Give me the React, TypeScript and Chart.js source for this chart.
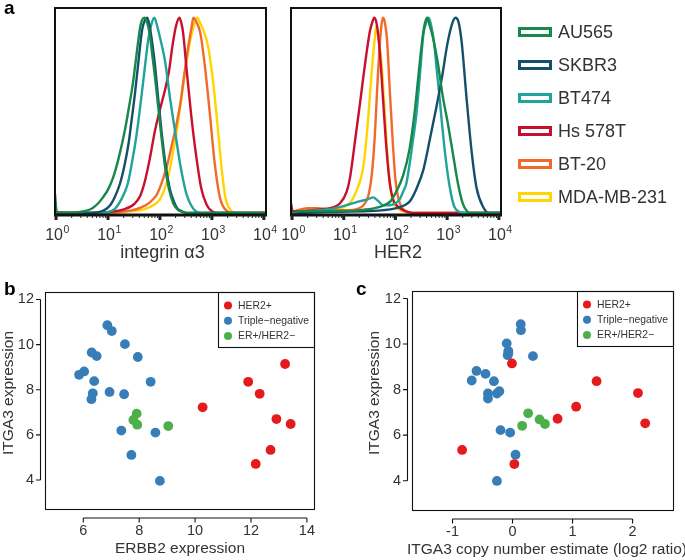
import React, { useEffect, useRef } from 'react';
import { Chart, registerables } from 'chart.js';

Chart.register(...registerables);

const FONT = '"Liberation Sans", Arial, Helvetica, sans-serif';
const TEXT = '#333333';

// ---------- panel a: flow cytometry histograms ----------
const CELL_LINES = ['AU565', 'SKBR3', 'BT474', 'Hs 578T', 'BT-20', 'MDA-MB-231'];
const CELL_COLORS = ['#17874a', '#144f6b', '#1fa39a', '#c8102e', '#f26a2a', '#ffd400'];

const HIST_TICKS = [1, 10, 100, 1000, 10000];
const HIST_TICK_EXPONENTS = ['0', '1', '2', '3', '4'];
const HIST_MINOR_STEPS = [2, 3, 4, 5, 6, 7, 8, 9];

// [fluorescence intensity, % of mode]
const ITGA3_AU565 = [[0.955, 10], [1.03, 0.5], [2, 0.2], [3.5, 0.9], [5, 2.5], [6.5, 5], [8, 8], [10, 12], [12.5, 18], [16, 28], [21, 42], [26, 56], [30, 66], [35, 80], [39, 90], [43, 97], [50, 100], [56, 98], [64, 91], [72, 80], [80, 70], [93, 54], [108, 38], [125, 24], [150, 12], [180, 5], [215, 2], [260, 0.7], [330, 0], [11000, 0]];
const ITGA3_SKBR3 = [[0.955, 0], [3, 0], [6, 0.3], [8.5, 1.5], [11, 4], [13.4, 8], [17, 15], [21, 25], [25, 36], [28, 46], [33, 61], [38, 76], [45.5, 94], [52, 99], [57, 100], [64, 95], [72, 86], [80, 76], [93, 58], [108, 41], [125, 27], [156, 12], [185, 6], [215, 2.5], [260, 1], [330, 0], [11000, 0]];
const ITGA3_BT474 = [[0.955, 0], [5, 0], [10, 0.5], [13.4, 2], [18, 7], [24, 15], [29, 26], [35, 39], [41, 53], [47.5, 67], [53, 78], [59, 88], [69, 97], [78, 100], [88, 96], [100, 90], [125, 78], [156, 59], [195, 42], [245, 25], [290, 15], [330, 9], [445, 2], [600, 0], [11000, 0]];
const ITGA3_HS578T = [[0.955, 6], [1.03, 0.5], [3, 0], [10, 0.5], [21, 2], [33, 5], [42, 9], [51, 16], [64, 28], [80, 42], [100, 53], [125, 63], [150, 73], [175, 86], [205, 96], [237, 100], [260, 97], [280, 92], [330, 72], [400, 50], [500, 29], [620, 13], [800, 4], [1000, 1], [1300, 0], [11000, 0]];
const ITGA3_BT20 = [[0.955, 0], [5, 0], [15, 0.5], [30, 1.5], [45, 3], [64, 5.5], [85, 9], [100, 13], [133, 23], [170, 35], [210, 46], [250, 57], [284, 68], [350, 85], [405, 95], [440, 100], [500, 98], [600, 92], [735, 75], [920, 50], [1150, 24], [1440, 7.5], [1950, 1], [2500, 0], [11000, 0]];
const ITGA3_MDA231 = [[0.955, 0], [5, 0], [15, 0.3], [30, 1], [51, 2], [80, 4.5], [100, 7], [133, 15], [170, 28], [210, 42], [250, 56], [300, 71], [380, 88], [460, 97], [520, 100], [600, 97], [700, 93], [850, 85], [1000, 72], [1150, 58], [1360, 38], [1550, 22], [1820, 8], [2300, 1.5], [2860, 0], [11000, 0]];

const HER2_AU565 = [[0.955, 0], [1.5, 1], [5, 1], [10, 1], [20, 1.5], [40, 2.5], [60, 4], [80, 6], [104, 11], [140, 19], [188, 33], [236, 52], [290, 75], [335, 90], [370, 97], [410, 100], [460, 96], [530, 90], [660, 77], [820, 60], [1030, 46], [1300, 30], [1620, 15], [2000, 5], [2400, 1], [2800, 0], [11000, 0]];
const HER2_SKBR3 = [[0.955, 0], [5, 0.5], [30, 1], [60, 1.5], [105, 2.5], [150, 4], [190, 6], [260, 13], [345, 22], [465, 38], [627, 55], [800, 70], [1000, 86], [1250, 97], [1450, 100], [1650, 98], [1900, 88], [2370, 59], [2960, 32], [3700, 13], [5000, 3], [6500, 0], [11000, 0]];
const HER2_BT474 = [[0.955, 0], [2, 1], [5.4, 2], [13, 4.5], [20, 6], [29, 7], [37, 8], [45, 6.5], [58, 4], [78, 4], [100, 5], [121, 7], [141, 11], [162, 15], [190, 26], [220, 38], [253, 50], [300, 72], [345, 91], [400, 98], [440, 100], [500, 95], [560, 87], [630, 73], [715, 59], [800, 45], [890, 33], [1000, 22], [1110, 14], [1250, 7], [1390, 3], [1740, 0.5], [2200, 0], [11000, 0]];
const HER2_HS578T = [[0.955, 5], [1.03, 1], [1.5, 1], [2.5, 1.5], [4, 2], [5.4, 2.5], [8.5, 5], [11.4, 11], [13.2, 18], [15.3, 30], [17.5, 42], [20.6, 56], [24, 70], [27.6, 82], [32, 93], [35, 97], [39, 100], [44, 96], [50, 82], [58, 57], [67, 33], [78, 15], [90, 7], [105, 4], [130, 2], [180, 0.5], [250, 0], [11000, 0]];
const HER2_BT20 = [[0.955, 0], [1.3, 1.5], [2, 2.5], [3, 2.5], [5, 2], [8, 1.5], [12, 1.5], [18, 2], [24, 4], [30, 9], [35, 20], [40, 40], [44, 62], [48, 80], [53, 95], [57, 100], [62, 98], [69, 88], [78, 62], [88, 38], [100, 17], [115, 7], [135, 2.5], [170, 0.5], [250, 0], [11000, 0]];
const HER2_MDA231 = [[0.955, 0], [1.5, 1], [3, 1.5], [6, 2], [10, 3], [14, 6], [18, 12], [21, 17], [24, 24], [27, 36], [30, 50], [34.6, 72], [40, 90], [43, 96], [47, 90], [54, 76], [62.5, 50], [72.5, 24], [84, 9], [105, 3], [140, 1], [200, 0], [11000, 0]];

const ITGA3_HISTS = [ITGA3_AU565, ITGA3_SKBR3, ITGA3_BT474, ITGA3_HS578T, ITGA3_BT20, ITGA3_MDA231];
const HER2_HISTS = [HER2_AU565, HER2_SKBR3, HER2_BT474, HER2_HS578T, HER2_BT20, HER2_MDA231];

// ---------- panels b & c: scatter ----------
const GROUPS = ['HER2+', 'Triple\u2212negative', 'ER+/HER2\u2212'];
const GROUP_COLORS = ['#e41a1c', '#377eb8', '#4daf4a'];

const B_HER2_X = [10.27, 13.22, 11.9, 12.31, 12.91, 13.42, 12.7, 12.17];
const B_HER2_Y = [7.22, 9.14, 8.35, 7.82, 6.7, 6.48, 5.33, 4.71];
const B_TN_X = [6.86, 7.02, 7.49, 6.3, 6.48, 7.95, 5.85, 6.03, 6.39, 8.41, 6.94, 7.46, 6.34, 6.29, 7.36, 8.58, 7.72, 8.74];
const B_TN_Y = [10.86, 10.6, 10.02, 9.65, 9.49, 9.45, 8.66, 8.81, 8.38, 8.35, 7.9, 7.8, 7.84, 7.58, 6.19, 6.1, 5.11, 3.96];
const B_ER_X = [7.91, 7.79, 7.93, 9.04];
const B_ER_Y = [6.94, 6.66, 6.45, 6.39];

const C_HER2_X = [-0.01, 1.4, 2.09, 1.06, 0.75, 2.21, -0.84, 0.03];
const C_HER2_Y = [9.15, 8.37, 7.85, 7.25, 6.72, 6.52, 5.35, 4.73];
const C_TN_X = [0.136, 0.14, -0.097, -0.07, -0.07, -0.08, 0.34, -0.6, -0.45, -0.68, -0.31, -0.41, -0.22, -0.26, -0.41, -0.2, -0.04, 0.05, -0.26];
const C_TN_Y = [10.87, 10.61, 10.03, 9.7, 9.61, 9.51, 9.47, 8.82, 8.69, 8.4, 8.37, 7.83, 7.93, 7.83, 7.61, 6.22, 6.11, 5.14, 3.99];
const C_ER_X = [0.26, 0.45, 0.54, 0.16];
const C_ER_Y = [6.96, 6.69, 6.49, 6.41];

const ERBB2_TICKS = [6, 8, 10, 12, 14];
const ITGA3_EXPR_TICKS = [4, 6, 8, 10, 12];
const CN_TICKS = [-1, 0, 1, 2];

const zip = (xs: number[], ys: number[]) => xs.map((x, i) => ({ x, y: ys[i] }));

// ---------- plugins ----------
const histPlugin = {
  id: 'histFrame',
  afterDraw(chart: any, _args: any, opts: any) {
    const { ctx, chartArea: a, scales } = chart;
    const x = scales.x;
    ctx.save();
    // frame
    ctx.strokeStyle = '#111';
    ctx.lineWidth = 2;
    ctx.strokeRect(a.left, a.top, a.right - a.left, a.bottom - a.top);
    ctx.lineWidth = 2.8;
    ctx.beginPath();
    ctx.moveTo(a.left - 1, a.bottom);
    ctx.lineTo(a.right + 1, a.bottom);
    ctx.stroke();
    // ticks
    ctx.fillStyle = '#222';
    HIST_TICKS.forEach((t, i) => {
      const px = x.getPixelForValue(t);
      ctx.fillRect(px - 1.5, a.bottom, 3, 5);
      if (i < HIST_TICKS.length - 1) {
        HIST_MINOR_STEPS.forEach((m) => {
          const mp = x.getPixelForValue(t * m);
          ctx.fillRect(mp - 0.5, a.bottom, 1, 3);
        });
      }
    });
    // tick labels 10^n
    ctx.fillStyle = TEXT;
    ctx.textBaseline = 'alphabetic';
    ctx.textAlign = 'left';
    const baseY = a.bottom + 25;
    HIST_TICKS.forEach((t, i) => {
      const px = x.getPixelForValue(t);
      ctx.font = `16px ${FONT}`;
      const w1 = ctx.measureText('10').width;
      ctx.font = `10.5px ${FONT}`;
      const w2 = ctx.measureText(HIST_TICK_EXPONENTS[i]).width;
      const sx = px - (w1 + w2) / 2 + 1;
      ctx.font = `16px ${FONT}`;
      ctx.fillText('10', sx, baseY);
      ctx.font = `10.5px ${FONT}`;
      ctx.fillText(HIST_TICK_EXPONENTS[i], sx + w1 + 0.5, baseY - 7);
    });
    // axis title
    ctx.font = `18px ${FONT}`;
    ctx.textAlign = 'center';
    ctx.fillText(opts.title, (a.left + a.right) / 2 + 2, a.bottom + 43);
    // panel letter
    if (opts.letter) {
      ctx.fillStyle = '#000';
      ctx.font = `bold 19px ${FONT}`;
      ctx.textAlign = 'left';
      ctx.fillText(opts.letter, 4, 14);
    }
    // legend
    if (opts.legend) {
      const lx = a.right + 17;
      chart.data.datasets.forEach((ds: any, i: number) => {
        const cy = 32 + i * 33;
        ctx.strokeStyle = ds.borderColor;
        ctx.lineWidth = 3;
        ctx.strokeRect(lx + 1.5, cy - 5 + 1.5, 31, 7);
        ctx.fillStyle = TEXT;
        ctx.font = `18px ${FONT}`;
        ctx.textAlign = 'left';
        ctx.textBaseline = 'middle';
        ctx.fillText(ds.label, lx + 40, cy + 1);
      });
    }
    ctx.restore();
  },
};

const scatterPlugin = {
  id: 'scatterFrame',
  afterDraw(chart: any, _args: any, opts: any) {
    const { ctx, chartArea: a, scales } = chart;
    const { x, y } = scales;
    ctx.save();
    ctx.strokeStyle = '#111';
    ctx.lineWidth = 1.1;
    ctx.strokeRect(a.left + 0.5, a.top + 0.5, a.right - a.left - 1, a.bottom - a.top - 1);
    // axes
    const xt: number[] = opts.xTicks;
    const yt: number[] = opts.yTicks;
    const ay = a.bottom + 8;
    ctx.beginPath();
    ctx.moveTo(x.getPixelForValue(xt[0]), ay);
    ctx.lineTo(x.getPixelForValue(xt[xt.length - 1]), ay);
    xt.forEach((v) => {
      const p = x.getPixelForValue(v);
      ctx.moveTo(p, ay);
      ctx.lineTo(p, ay + 4.5);
    });
    const ax = a.left - 4.5;
    ctx.moveTo(ax, y.getPixelForValue(yt[0]));
    ctx.lineTo(ax, y.getPixelForValue(yt[yt.length - 1]));
    yt.forEach((v) => {
      const p = y.getPixelForValue(v);
      ctx.moveTo(ax, p);
      ctx.lineTo(ax - 4.5, p);
    });
    ctx.stroke();
    // legend
    const lw = 97;
    const lh = 56;
    const lx = a.right - lw;
    const ly = a.top;
    ctx.lineWidth = 1.1;
    ctx.strokeRect(lx + 0.5, ly + 0.5, lw - 1, lh - 1);
    chart.data.datasets.forEach((ds: any, i: number) => {
      const cy = ly + 13.5 + i * 15.3;
      ctx.fillStyle = ds.backgroundColor;
      ctx.beginPath();
      ctx.arc(lx + 10, cy, 4, 0, Math.PI * 2);
      ctx.fill();
      ctx.fillStyle = TEXT;
      ctx.font = `10.4px ${FONT}`;
      ctx.textAlign = 'left';
      ctx.textBaseline = 'middle';
      ctx.fillText(ds.label, lx + 20, cy + 0.5);
    });
    // axis titles
    ctx.fillStyle = TEXT;
    ctx.font = `15.5px ${FONT}`;
    ctx.textAlign = 'center';
    ctx.textBaseline = 'alphabetic';
    ctx.fillText(opts.xTitle, (a.left + a.right) / 2 + opts.xTitleShift, a.bottom + 43);
    ctx.save();
    ctx.translate(opts.yTitleX, (a.top + a.bottom) / 2 - 8);
    ctx.rotate(-Math.PI / 2);
    ctx.fillText(opts.yTitle, 0, 0);
    ctx.restore();
    // letter
    ctx.fillStyle = '#000';
    ctx.font = `bold 19px ${FONT}`;
    ctx.textAlign = 'left';
    ctx.fillText(opts.letter, opts.letterX, 25);
    ctx.restore();
  },
};

// ---------- config builders ----------
function histConfig(hists: number[][][], title: string, letter: string, legend: boolean, pad: any) {
  return {
    type: 'line',
    data: {
      datasets: hists.map((h, i) => ({
        label: CELL_LINES[i],
        data: h.map(([x, y]) => ({ x, y })),
        borderColor: CELL_COLORS[i],
        backgroundColor: CELL_COLORS[i],
        borderWidth: 2.4,
        pointRadius: 0,
        fill: false,
        cubicInterpolationMode: 'monotone',
      })),
    },
    options: {
      animation: false,
      responsive: false,
      events: [],
      layout: { padding: pad },
      plugins: {
        legend: { display: false },
        tooltip: { enabled: false },
        histFrame: { title, letter, legend },
      },
      scales: {
        x: { type: 'logarithmic', min: 0.955, max: 11000, display: false },
        y: { type: 'linear', min: -1, max: 105, display: false },
      },
    },
    plugins: [histPlugin],
  };
}

function scatterConfig(series: { x: number[]; y: number[] }[], xMin: number, xMax: number, xTicks: number[], extra: any) {
  const tickFont = { family: FONT, size: 14.5 };
  return {
    type: 'scatter',
    data: {
      datasets: series.map((s, i) => ({
        label: GROUPS[i],
        data: zip(s.x, s.y),
        backgroundColor: GROUP_COLORS[i],
        borderWidth: 0,
        pointRadius: 4.9,
      })),
    },
    options: {
      animation: false,
      responsive: false,
      events: [],
      layout: { padding: extra.pad },
      plugins: {
        legend: { display: false },
        tooltip: { enabled: false },
        scatterFrame: { xTicks, yTicks: ITGA3_EXPR_TICKS, ...extra.frame },
      },
      scales: {
        x: {
          type: 'linear',
          min: xMin,
          max: xMax,
          grid: { display: false, drawTicks: false, tickLength: 0 },
          border: { display: false },
          ticks: { font: tickFont, color: TEXT, padding: 12.5, maxRotation: 0 },
          afterBuildTicks: (s: any) => { s.ticks = xTicks.map((v) => ({ value: v })); },
          afterFit: (s: any) => { s.height = extra.xh; },
        },
        y: {
          type: 'linear',
          min: 2.67,
          max: 12.33,
          grid: { display: false, drawTicks: false, tickLength: 0 },
          border: { display: false },
          ticks: { font: tickFont, color: TEXT, padding: 11 },
          afterBuildTicks: (s: any) => { s.ticks = ITGA3_EXPR_TICKS.map((v) => ({ value: v })); },
          afterFit: (s: any) => { s.width = extra.yw; },
        },
      },
    },
    plugins: [scatterPlugin],
  };
}

function ChartBox({ config, left, top, width, height }: any) {
  const ref = useRef<HTMLCanvasElement>(null);
  useEffect(() => {
    const chart = new Chart(ref.current as HTMLCanvasElement, config);
    return () => chart.destroy();
  }, []);
  return (
    <div style={{ position: 'absolute', left, top, width, height }}>
      <canvas ref={ref} width={width} height={height} style={{ width, height, display: 'block' }} />
    </div>
  );
}

export default function App() {
  const aLeft = histConfig(ITGA3_HISTS, 'integrin \u03b13', 'a', false, { left: 55, top: 8, right: 277 - 266, bottom: 265 - 215 });
  const aRight = histConfig(HER2_HISTS, 'HER2', '', true, { left: 291 - 277, top: 8, right: 408 - (501 - 277), bottom: 265 - 215 });
  const b = scatterConfig(
    [{ x: B_HER2_X, y: B_HER2_Y }, { x: B_TN_X, y: B_TN_Y }, { x: B_ER_X, y: B_ER_Y }],
    4.63, 14.29, ERBB2_TICKS,
    {
      pad: { left: 0, top: 22, right: 25, bottom: 0 },
      yw: 45, xh: 50,
      frame: { xTitle: 'ERBB2 expression', yTitle: 'ITGA3 expression', yTitleX: 13, letter: 'b', letterX: 4, xTitleShift: 0 },
    }
  );
  const c = scatterConfig(
    [{ x: C_HER2_X, y: C_HER2_Y }, { x: C_TN_X, y: C_TN_Y }, { x: C_ER_X, y: C_ER_Y }],
    -1.675, 2.69, CN_TICKS,
    {
      pad: { left: 0, top: 21, right: 11, bottom: 0 },
      yw: 72, xh: 49,
      frame: { xTitle: 'ITGA3 copy number estimate (log2 ratio)', yTitle: 'ITGA3 expression', yTitleX: 39, letter: 'c', letterX: 16, xTitleShift: 4 },
    }
  );
  return (
    <div style={{ position: 'absolute', left: 0, top: 0, width: 685, height: 560, background: '#fff' }}>
      <ChartBox config={aLeft} left={0} top={0} width={277} height={265} />
      <ChartBox config={aRight} left={277} top={0} width={408} height={265} />
      <ChartBox config={b} left={0} top={270} width={340} height={290} />
      <ChartBox config={c} left={340} top={270} width={345} height={290} />
    </div>
  );
}
